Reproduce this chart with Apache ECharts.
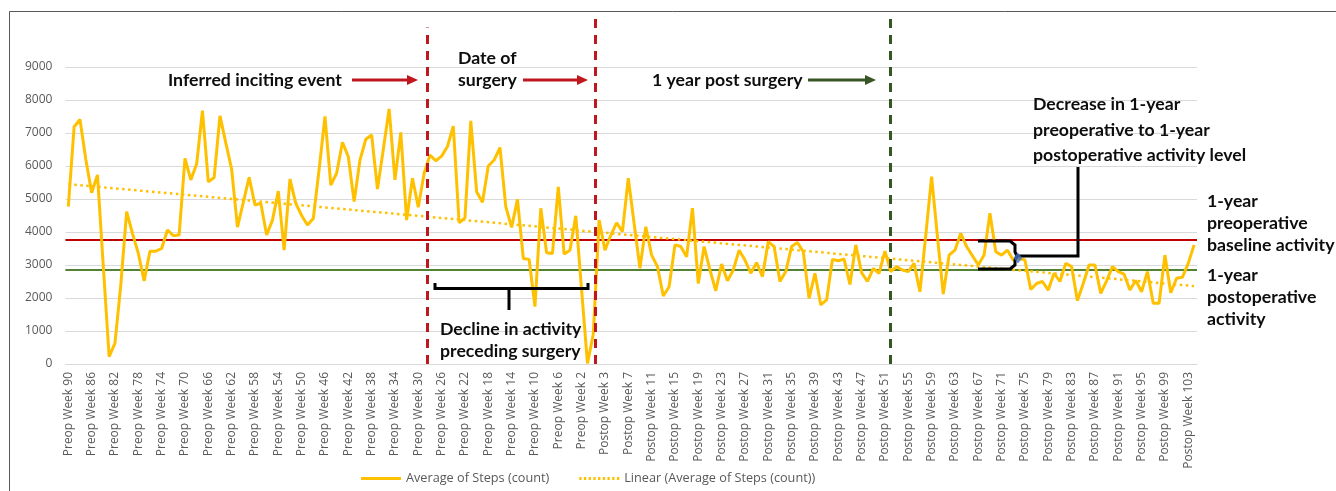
<!DOCTYPE html>
<html><head><meta charset="utf-8">
<script src="https://cdn.jsdelivr.net/npm/echarts@6/dist/echarts.min.js"></script>
<style>html,body{margin:0;padding:0;background:#fff}#c{width:1336px;height:491px}</style>
</head><body><div id="c"></div>
<script>
// ---- categories ----
const preopWeeks = [];  for (let w = 90; w >= 1; w--) preopWeeks.push('Preop Week ' + w);
const postopWeeks = []; for (let w = 1; w <= 104; w++) postopWeeks.push('Postop Week ' + w);
const categories = preopWeeks.concat(postopWeeks);

// ---- average steps per week ----
const stepsPreop = [
  4770,7190,7410,6200,5190,5730,2950,220,630,2400,
  4620,3960,3350,2520,3420,3420,3500,4060,3890,3910,
  6230,5580,6060,7680,5520,5650,7520,6700,5900,4150,
  4900,5660,4820,4870,3910,4360,5240,3450,5600,4870,
  4500,4210,4410,5900,7500,5420,5780,6720,6280,4920,
  6180,6810,6940,5300,6500,7730,5580,7020,4360,5630,
  4750,5780,6330,6160,6300,6590,7210,4280,4430,7370,
  5220,4900,6000,6180,6560,4770,4140,4990,3200,3170,
  1740,4720,3370,3350,5370,3330,3450,4490,2240,20
];
const stepsPostop = [
  900,4360,3450,3900,4280,4010,5630,4260,2900,4160,
  3300,2950,2060,2340,3610,3560,3250,4720,2440,3560,
  2850,2220,3030,2520,2850,3450,3150,2750,3070,2650,
  3710,3560,2500,2800,3560,3680,3400,1990,2750,1790,
  1940,3170,3130,3180,2410,3610,2770,2500,2900,2750,
  3420,2800,2950,2850,2800,3050,2190,3900,5680,3860,
  2120,3300,3450,3960,3560,3280,3000,3300,4570,3400,
  3300,3450,3150,3200,3150,2260,2440,2500,2240,2750,
  2500,3050,2950,1920,2440,3000,3000,2140,2520,2950,
  2800,2720,2240,2530,2190,2800,1840,1840,3300,2160,
  2600,2630,3050,3610
];
const steps = stepsPreop.concat(stepsPostop);

// ---- reference levels & trend ----
const preBaseline = 3760;
const postBaseline = 2870;
const trendStart = 5450, trendEnd = 2360;
// vertical markers, in category-index units, with the step level their dashes reach
const incitingX = 61.55, surgeryX = 90.3, oneYearX = 140.85;
const incitingTop = 10200, surgeryTop = 10600, oneYearTop = 10600;
const overlayTop = 10700;
const diamond = [162.8, 3210];

const chart = echarts.init(document.getElementById('c'));
const axisFont = { fontFamily: 'Open Sans', fontSize: 12, color: '#595959' };
const bold = 'bold 17.7px Lato';

function txt(t, x, y) {
  return { type: 'text', x: x, y: y, style: { text: t, font: bold, fill: '#0d0d0d', verticalAlign: 'middle' }, z: 20 };
}
function arrow(x1, x2, y, color) {
  return [
    { type: 'line', shape: { x1: x1, y1: y, x2: x2 - 10, y2: y }, style: { stroke: color, lineWidth: 3 }, z: 20 },
    { type: 'polygon', shape: { points: [[x2 - 11, y - 5], [x2, y], [x2 - 11, y + 5]] }, style: { fill: color }, z: 20 }
  ];
}
// legend icons: a solid bar and a row of dots
const solidIcon = 'path://M0,0H40V3H0Z';
let dots = '';
for (let k = 0; k < 9; k++) { const x0 = k * 4.5; dots += 'M' + x0 + ',0h2.2v2.2h-2.2Z'; }
const dottedIcon = 'path://' + dots;

const overlayGridTop = 364 - overlayTop * 0.033;

const option = {
  animation: false,
  backgroundColor: '#fff',
  grid: [
    { left: 65.4, right: 139, top: 67, bottom: 127 },
    { left: 65.4, right: 139, top: overlayGridTop, bottom: 127 }
  ],
  xAxis: [
    { type: 'category', gridIndex: 0, data: categories, boundaryGap: true,
      axisLine: { lineStyle: { color: '#d9d9d9' } }, axisTick: { show: false },
      axisLabel: Object.assign({ rotate: 90, interval: 3, margin: 8 }, axisFont) },
    { type: 'value', gridIndex: 1, min: -0.5, max: categories.length - 0.5, show: false }
  ],
  yAxis: [
    { type: 'value', gridIndex: 0, min: 0, max: 9000, interval: 1000,
      axisLine: { show: false }, axisTick: { show: false },
      axisLabel: Object.assign({ margin: 13, formatter: v => String(v) }, axisFont),
      splitLine: { lineStyle: { color: '#d9d9d9', width: 1 } } },
    { type: 'value', gridIndex: 1, min: 0, max: overlayTop, show: false }
  ],
  legend: {
    top: 467, left: 356, itemGap: 30, itemWidth: 40, itemHeight: 3, symbolKeepAspect: false,
    textStyle: { fontFamily: 'Open Sans', fontSize: 12.7, color: '#595959' },
    data: [
      { name: 'Average of Steps (count)', icon: solidIcon, itemStyle: { color: '#FFC000' } },
      { name: 'Linear (Average of Steps (count))', icon: dottedIcon, itemStyle: { color: '#FFC000' } }
    ]
  },
  series: [
    { name: 'Average of Steps (count)', type: 'line', xAxisIndex: 0, yAxisIndex: 0,
      data: steps, symbol: 'none', showSymbol: false, smooth: false, color: '#FFC000',
      lineStyle: { color: '#FFC000', width: 3 }, z: 5,
      markLine: { silent: true, symbol: 'none', label: { show: false }, z: 3,
        data: [
          { yAxis: preBaseline, lineStyle: { color: '#C00000', width: 2, type: 'solid' } },
          { yAxis: postBaseline, lineStyle: { color: '#548235', width: 2, type: 'solid' } }
        ] } },
    { name: 'Linear (Average of Steps (count))', type: 'line', xAxisIndex: 1, yAxisIndex: 1,
      data: [[0, trendStart], [categories.length - 1, trendEnd]], symbol: 'none', showSymbol: false, clip: false,
      color: '#FFC000', lineStyle: { color: '#FFC000', width: 2.5, type: [2.5, 3.5] }, z: 4,
      markLine: { silent: true, symbol: 'none', label: { show: false }, z: 6,
        data: [
          [{ coord: [incitingX, 0] }, { coord: [incitingX, incitingTop], lineStyle: { color: '#C0161E', width: 3, type: [9, 7] } }],
          [{ coord: [surgeryX, 0] }, { coord: [surgeryX, surgeryTop], lineStyle: { color: '#C0161E', width: 3, type: [9, 7] } }],
          [{ coord: [oneYearX, 0] }, { coord: [oneYearX, oneYearTop], lineStyle: { color: '#375623', width: 3, type: [9, 7] } }]
        ] } },
    { name: 'marker', type: 'scatter', xAxisIndex: 1, yAxisIndex: 1, data: [diamond],
      symbol: 'diamond', symbolSize: [9, 11], itemStyle: { color: '#4472C4' }, z: 30, silent: true }
  ],
  graphic: [
    // frame
    { type: 'line', shape: { x1: 9.5, y1: 11.5, x2: 1336, y2: 11.5 }, style: { stroke: '#595959', lineWidth: 1 } },
    { type: 'line', shape: { x1: 9.5, y1: 11.5, x2: 9.5, y2: 491 }, style: { stroke: '#595959', lineWidth: 1 } },
    txt('Inferred inciting event', 168, 80),
    ...arrow(352, 418, 80, '#C0161E'),
    txt('Date of', 458, 58),
    txt('surgery', 458, 80),
    ...arrow(523, 588, 80, '#C0161E'),
    txt('1 year post surgery', 652, 80),
    ...arrow(808, 876, 80, '#375623'),
    txt('Decrease in 1-year', 1033, 104),
    txt('preoperative to 1-year', 1033, 130),
    txt('postoperative activity level', 1033, 155),
    txt('1-year', 1207, 201),
    txt('preoperative', 1207, 223),
    txt('baseline activity', 1207, 245),
    txt('1-year', 1207, 275),
    txt('postoperative', 1207, 297),
    txt('activity', 1207, 319),
    txt('Decline in activity', 440, 329),
    txt('preceding surgery', 440, 351),
    // bottom bracket
    { type: 'polyline', shape: { points: [[435, 283], [435, 288.5], [588, 288.5], [588, 283]] }, style: { stroke: '#000', lineWidth: 3, fill: null }, z: 20 },
    { type: 'line', shape: { x1: 509, y1: 288.5, x2: 509, y2: 310 }, style: { stroke: '#000', lineWidth: 3 }, z: 20 },
    // right bracket
    { type: 'polyline', shape: { points: [[978, 241], [1010, 241], [1015, 245], [1015, 252], [1017, 256], [1015, 260], [1015, 265], [1010, 269], [978, 269]] }, style: { stroke: '#000', lineWidth: 3, fill: null }, z: 20 },
    { type: 'polyline', shape: { points: [[1017, 256], [1078, 256], [1078, 167]] }, style: { stroke: '#000', lineWidth: 3, fill: null }, z: 20 }
  ]
};
chart.setOption(option);
</script>
</body></html>
